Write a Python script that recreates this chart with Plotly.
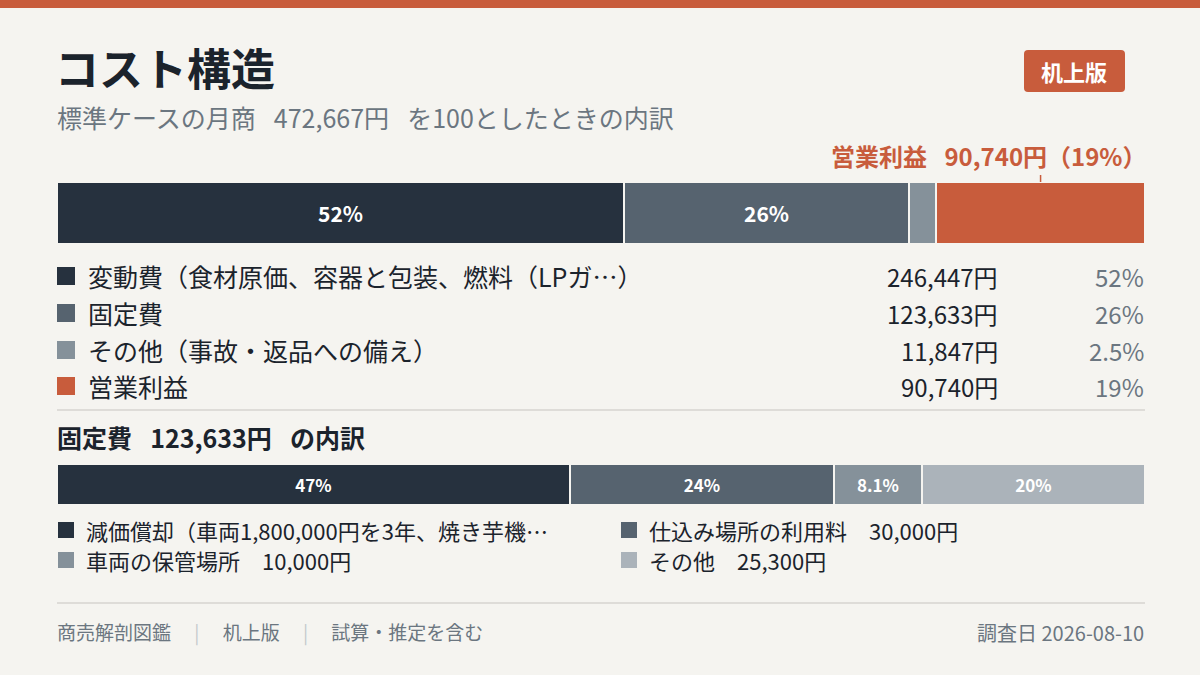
import plotly.graph_objects as go

# main breakdown (yen / month)
cost_labels = ["変動費（食材原価、容器と包装、燃料（LPガ…）", "固定費", "その他（事故・返品への備え）", "営業利益"]
cost_values = [246447, 123633, 11847, 90740]
cost_colors = ["#26313e", "#56636f", "#85919a", "#c85c3c"]
cost_bar_label = [True, True, False, False]

# fixed cost breakdown
fixed_labels = ["減価償却（車両1,800,000円を3年、焼き芋機…", "仕込み場所の利用料", "車両の保管場所", "その他"]
fixed_values = [58333, 30000, 10000, 25300]
fixed_colors = ["#26313e", "#56636f", "#85919a", "#abb3ba"]
fixed_show_value = [False, True, True, True]

FONT = "Noto Sans CJK JP"
W, H = 1200, 675
BG = "#f5f4f0"
INK = "#1b232c"
GRAY = "#6b7680"
ORANGE = "#c85c3c"
GAP = "\u2002 "


def px(x):
    return x / W


def py(y):
    return 1 - y / H


def pct_text(v, total):
    p = v / total * 100
    if p < 10:
        return f"{p:.1f}%"
    return f"{p:.0f}%"


total = sum(cost_values)
fixed_total = sum(fixed_values)

fig = go.Figure()

# main stacked bar
for lab, v, c, show in zip(cost_labels, cost_values, cost_colors, cost_bar_label):
    fig.add_trace(go.Bar(
        x=[v], y=[0], orientation="h", width=1,
        marker=dict(color=c, line=dict(color=BG, width=2)),
        text=[f"<b>{pct_text(v, total)}</b>" if show else ""],
        textposition="inside", insidetextanchor="middle",
        textfont=dict(color="white", size=21, family=FONT),
        hoverinfo="skip", showlegend=False,
        xaxis="x", yaxis="y",
    ))

# fixed cost stacked bar
for lab, v, c in zip(fixed_labels, fixed_values, fixed_colors):
    fig.add_trace(go.Bar(
        x=[v], y=[0], orientation="h", width=1,
        marker=dict(color=c, line=dict(color=BG, width=2)),
        text=[f"<b>{pct_text(v, fixed_total)}</b>"],
        textposition="inside", insidetextanchor="middle",
        textfont=dict(color="white", size=17, family=FONT),
        hoverinfo="skip", showlegend=False,
        xaxis="x2", yaxis="y2",
    ))

# legend chips on a pixel overlay axis
row_y = [276, 313, 350, 386]
fig.add_trace(go.Scatter(
    x=[66] * len(cost_colors), y=row_y, mode="markers",
    marker=dict(symbol="square", size=18, color=cost_colors),
    hoverinfo="skip", showlegend=False, xaxis="x3", yaxis="y3",
))
sub_x = [66, 629, 66, 629]
sub_y = [530, 530, 560, 560]
fig.add_trace(go.Scatter(
    x=sub_x, y=sub_y, mode="markers",
    marker=dict(symbol="square", size=16, color=fixed_colors),
    hoverinfo="skip", showlegend=False, xaxis="x3", yaxis="y3",
))

ann = []


def text(x, y, s, size, color=INK, anchor="left", bold=False):
    if bold:
        s = f"<b>{s}</b>"
    ann.append(dict(x=px(x), y=py(y), xref="paper", yref="paper", text=s, showarrow=False,
                    xanchor=anchor, yanchor="middle",
                    font=dict(size=size, color=color, family=FONT)))


text(53, 67, "コスト構造", 44, INK, bold=True)
text(55, 117, f"標準ケースの月商{GAP}{total:,}円{GAP}を100としたときの内訳", 25, GRAY)

# profit callout
profit = cost_values[-1]
text(1148, 156, f"営業利益{GAP}{profit:,}円（{pct_text(profit, total)}）", 24, ORANGE, anchor="right", bold=True)

# legend rows
for lab, v, yy in zip(cost_labels, cost_values, row_y):
    text(86, yy, lab, 25, INK)
    text(1000, yy, f"{v:,}円", 24, INK, anchor="right")
    text(1146, yy, pct_text(v, total), 24, GRAY, anchor="right")

text(55, 437, f"固定費{GAP}{fixed_total:,}円{GAP}の内訳", 25, INK, bold=True)

for lab, v, show, xx, yy in zip(fixed_labels, fixed_values, fixed_show_value, sub_x, sub_y):
    s = f"{lab}　{v:,}円" if show else lab
    text(xx + 18, yy, s, 22, INK)

# footer
sep = "<span style='color:#c4c8cc'>　 |　 </span>"
text(55, 632, f"商売解剖図鑑{sep}机上版{sep}試算・推定を含む", 19, GRAY)
text(1146, 632, "調査日 2026-08-10", 20, GRAY, anchor="right")

# badge
text(1074, 71, "机上版", 22, "white", anchor="center", bold=True)

shapes = [
    dict(type="rect", xref="paper", yref="paper", x0=0, x1=1, y0=py(8), y1=1,
         fillcolor=ORANGE, line=dict(width=0), layer="below"),
    dict(type="path", xref="paper", yref="paper",
         path=(f"M {px(1028)} {py(50)} L {px(1121)} {py(50)} Q {px(1125)} {py(50)} {px(1125)} {py(54)} "
               f"L {px(1125)} {py(88)} Q {px(1125)} {py(92)} {px(1121)} {py(92)} "
               f"L {px(1028)} {py(92)} Q {px(1024)} {py(92)} {px(1024)} {py(88)} "
               f"L {px(1024)} {py(54)} Q {px(1024)} {py(50)} {px(1028)} {py(50)} Z"),
         fillcolor=ORANGE, line=dict(width=0), layer="below"),
    dict(type="line", xref="paper", yref="paper", x0=px(57), x1=px(1145), y0=py(410), y1=py(410),
         line=dict(color="#d6d5d1", width=1.5)),
    dict(type="line", xref="paper", yref="paper", x0=px(57), x1=px(1145), y0=py(603), y1=py(603),
         line=dict(color="#d6d5d1", width=1.5)),
    # callout tick at profit segment centre
    dict(type="line", xref="x", yref="paper", x0=total - profit / 2, x1=total - profit / 2,
         y0=py(175), y1=py(182), line=dict(color=ORANGE, width=1.5)),
]

hidden = dict(visible=False, showgrid=False, zeroline=False, fixedrange=True)
fig.update_layout(
    width=W, height=H,
    margin=dict(l=0, r=0, t=0, b=0),
    paper_bgcolor=BG, plot_bgcolor="rgba(0,0,0,0)",
    barmode="stack", bargap=0,
    font=dict(family=FONT),
    xaxis=dict(domain=[px(57), px(1145)], range=[0, total], anchor="y", **hidden),
    yaxis=dict(domain=[py(244), py(182)], range=[-0.5, 0.5], anchor="x", **hidden),
    xaxis2=dict(domain=[px(57), px(1145)], range=[0, fixed_total], anchor="y2", **hidden),
    yaxis2=dict(domain=[py(505), py(464)], range=[-0.5, 0.5], anchor="x2", **hidden),
    xaxis3=dict(domain=[0, 1], range=[0, W], anchor="y3", **hidden),
    yaxis3=dict(domain=[0, 1], range=[H, 0], anchor="x3", **hidden),
    annotations=ann, shapes=shapes,
)

fig.write_html("out.html", config={"displayModeBar": False},
               post_script="document.body.style.margin='0';")
